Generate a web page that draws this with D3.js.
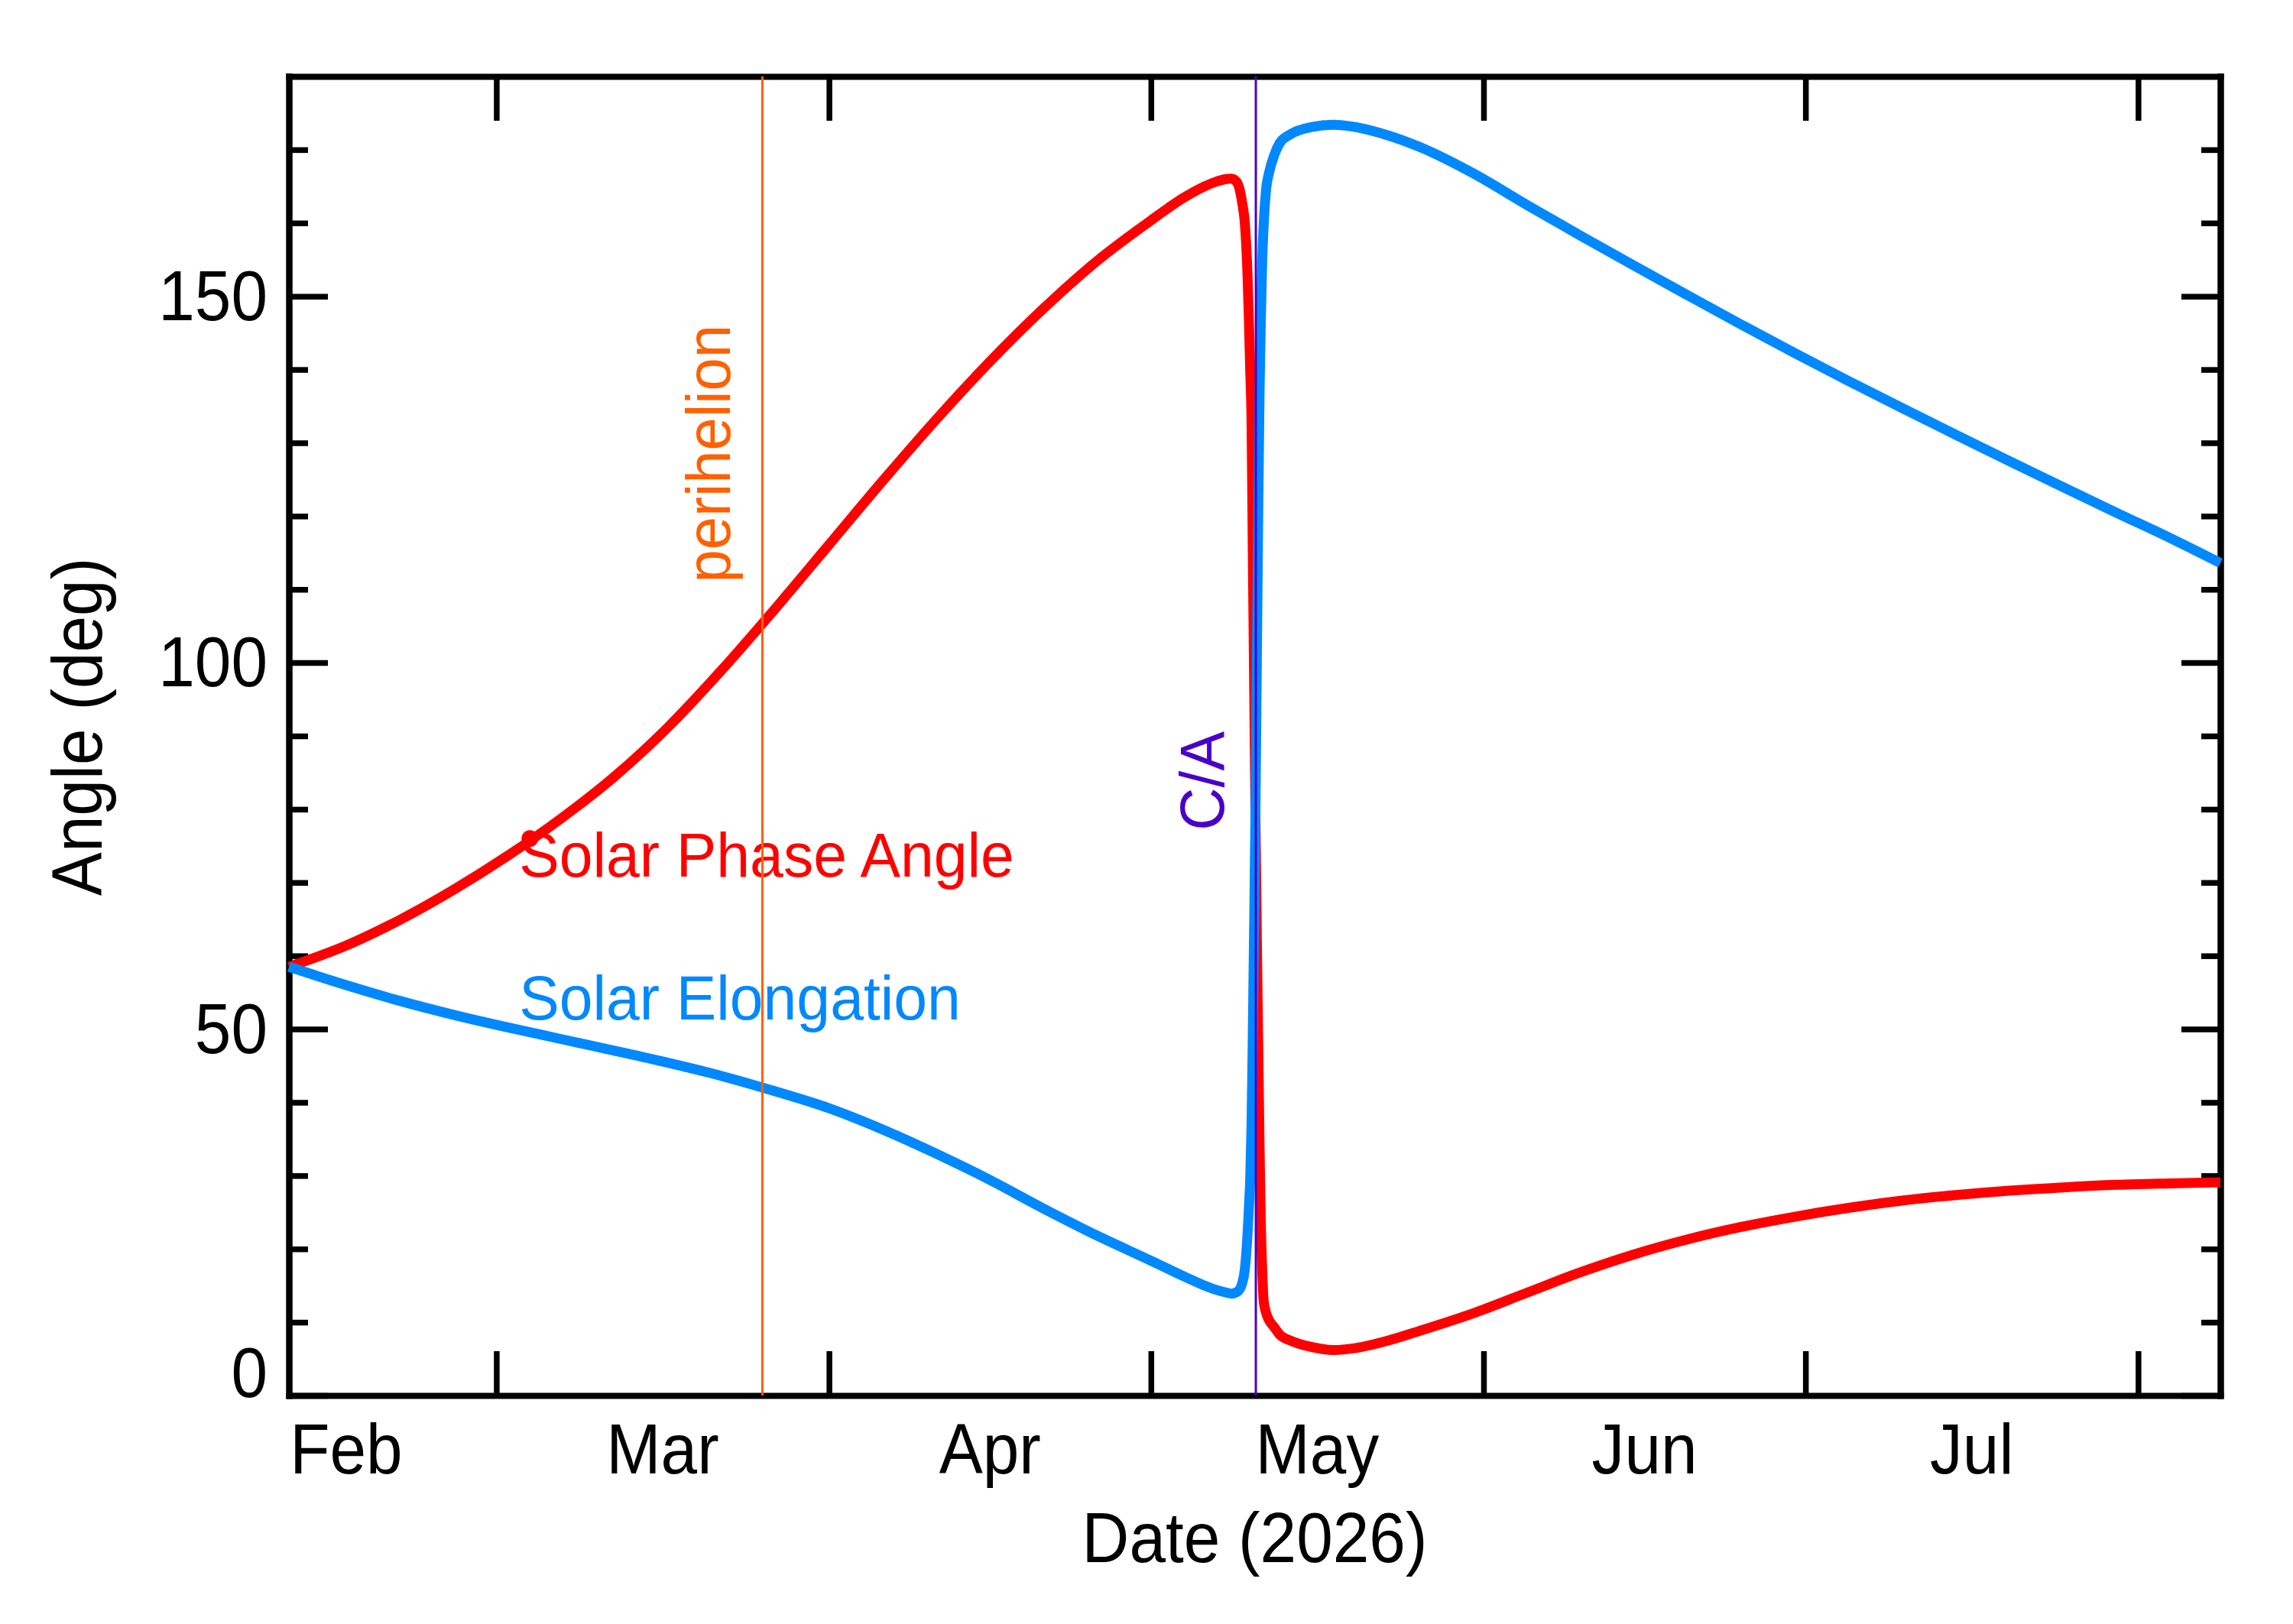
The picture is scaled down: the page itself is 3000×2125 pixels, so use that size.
<!DOCTYPE html>
<html lang="en">
<head>
<meta charset="UTF-8">
<title>solar-angles</title>
<script src="https://cdn.jsdelivr.net/npm/d3@7"></script>
<style>
  body { margin: 0; background: #fff; }
  svg { display: block; }
  .axis path, .axis line { stroke: #000; }
</style>
</head>
<body>
<script type="text/javascript">
// sample epochs (UTC) and the two angles
let dates = [
  '2026-02-09T16:00', '2026-02-15', '2026-02-20', '2026-02-25', '2026-03-02',
  '2026-03-07', '2026-03-12', '2026-03-17', '2026-03-22', '2026-03-27',
  '2026-04-01', '2026-04-06', '2026-04-11', '2026-04-16', '2026-04-21',
  '2026-04-26', '2026-05-01', '2026-05-04', '2026-05-06', '2026-05-07',
  '2026-05-08', '2026-05-08T12:00', '2026-05-09', '2026-05-09T12:00', '2026-05-09T18:00',
  '2026-05-10T00:00', '2026-05-10T03:00', '2026-05-10T06:00', '2026-05-10T09:00', '2026-05-10T12:00',
  '2026-05-10T15:00', '2026-05-10T18:00', '2026-05-10T21:00', '2026-05-11T00:00', '2026-05-11T03:00',
  '2026-05-11T06:00', '2026-05-11T09:00', '2026-05-11T12:00', '2026-05-11T18:00', '2026-05-12',
  '2026-05-12T12:00', '2026-05-13', '2026-05-14', '2026-05-16', '2026-05-18',
  '2026-05-20', '2026-05-23', '2026-05-26', '2026-05-31', '2026-06-05',
  '2026-06-10', '2026-06-15', '2026-06-20', '2026-06-25', '2026-06-30',
  '2026-07-05', '2026-07-10', '2026-07-15', '2026-07-20', '2026-07-25',
  '2026-07-30', '2026-08-04', '2026-08-08T16:00'
];
let phaseAngle = [
  58.5, 61.4, 64.9, 69.0, 73.6, 78.7, 84.45, 91.2, 99.0, 107.4,
  116.1, 124.8, 133.2, 141.1, 148.35, 154.85, 160.35, 163.4, 165.0, 165.6,
  166.0, 166.05, 165.6, 162.8, 160.0, 153.0, 147.0, 140.0, 133.0, 114.0,
  96.0, 78.0, 62.0, 48.0, 34.0, 23.0, 17.0, 13.0, 11.2, 10.3,
  9.3, 8.3, 7.5, 6.6, 6.2, 6.45, 7.45, 8.8, 11.2, 14.0,
  16.8, 19.25, 21.3, 23.0, 24.4, 25.6, 26.6, 27.35, 27.95, 28.4,
  28.75, 28.95, 29.1
];
let elongation = [
  58.5, 56.0, 53.85, 51.95, 50.25, 48.65, 47.05, 45.4, 43.6, 41.5,
  39.2, 36.3, 33.0, 29.4, 25.5, 21.8, 18.4, 16.3, 15.0, 14.45,
  14.05, 13.9, 14.1, 15.3, 17.2, 22.0, 25.5, 29.5, 37.0, 50.0,
  65.0, 81.0, 101.0, 120.0, 137.0, 147.0, 155.0, 159.5, 164.8, 166.8,
  169.3, 170.9, 172.1, 173.1, 173.4, 173.1, 172.0, 170.4, 166.8, 162.5,
  158.3, 154.2, 150.15, 146.15, 142.25, 138.45, 134.75, 131.1, 127.5, 123.95,
  120.45, 117.0, 113.6
];
let phaseMarker = { date: '2026-03-04T03:00', value: 76.0 };

let monthStarts = ['2026-02-01', '2026-03-01', '2026-04-01', '2026-05-01',
                   '2026-06-01', '2026-07-01', '2026-08-01'];
let monthLabels = ['Feb', 'Mar', 'Apr', 'May', 'Jun', 'Jul'];
let yLabels = [0, 50, 100, 150];

let perihelionDate = '2026-03-25T19:00';
let closeApproachDate = '2026-05-10T18:40';

let width = 3000;
let height = 2125;
let plotL = 378, plotR = 2905, plotT = 100, plotB = 1826;
let font = '"Liberation Sans", Arial, Helvetica, sans-serif';

let red = '#ff0000';
let blue = '#0088ff';
let orange = '#ff6000';
let purple = '#4b00c8';

let parse = s => new Date(s + (s.length > 10 ? ':00Z' : 'T00:00:00Z'));

let x = d3.scaleUtc()
  .domain([parse(dates[0]), parse(dates[dates.length - 1])])
  .range([plotL, plotR]);
let y = d3.scaleLinear()
  .domain([0, 180])
  .range([plotB, plotT]);

let svg = d3.select('body').append('svg')
  .attr('width', width)
  .attr('height', height)
  .style('font-family', font);

svg.append('rect').attr('width', width).attr('height', height).attr('fill', '#fff');

// IDL-ish fonts are a little narrower than Arial, so squeeze x a bit
function label(txt, px, py, size, opts) {
  opts = opts || {};
  svg.append('text')
    .attr('transform', 'translate(' + px + ',' + py + ') rotate(' + (opts.rotate || 0) + ') scale(' + (opts.sx || 0.93) + ',1)')
    .attr('text-anchor', opts.anchor || 'start')
    .attr('font-size', size)
    .attr('fill', opts.color || '#000')
    .text(txt);
}

let monthTicks = monthStarts.map(parse).filter(d => d > x.domain()[0] && d < x.domain()[1]);
let minorY = d3.range(10, 180, 10).filter(v => v % 50 !== 0);

function renderAxis(axis, tx, ty, lineW) {
  let g = svg.append('g')
    .attr('class', 'axis')
    .attr('transform', 'translate(' + tx + ',' + ty + ')')
    .call(axis);
  g.selectAll('text').remove();
  g.select('.domain').attr('stroke-width', 8).attr('stroke-linecap', 'square');
  g.selectAll('.tick line').attr('stroke-width', lineW);
  return g;
}

// frame + month ticks
renderAxis(d3.axisBottom(x).tickValues(monthTicks).tickSize(-58).tickSizeOuter(0), 0, plotB, 7.5);
renderAxis(d3.axisTop(x).tickValues(monthTicks).tickSize(-58).tickSizeOuter(0), 0, plotT, 7.5);
// major + minor angle ticks
renderAxis(d3.axisLeft(y).tickValues(yLabels).tickSize(-51).tickSizeOuter(0), plotL, 0, 7.5);
renderAxis(d3.axisRight(y).tickValues(yLabels).tickSize(-51).tickSizeOuter(0), plotR, 0, 7.5);
renderAxis(d3.axisLeft(y).tickValues(minorY).tickSize(-25).tickSizeOuter(0), plotL, 0, 7.5);
renderAxis(d3.axisRight(y).tickValues(minorY).tickSize(-25).tickSizeOuter(0), plotR, 0, 7.5);

// month names sit in the middle of each month
monthLabels.forEach(function (m, i) {
  let a = parse(monthStarts[i]), b = parse(monthStarts[i + 1]);
  let mid = new Date((a.getTime() + b.getTime()) / 2);
  label(m, x(mid), 1928, 92, { anchor: 'middle' });
});

yLabels.forEach(function (v) {
  let py = v === 0 ? y(0) + 2 : y(v) + 31;
  label(String(v), plotL - 28, py, 92, { anchor: 'end' });
});

label('Date (2026)', (plotL + plotR) / 2, 2044, 92, { anchor: 'middle' });
label('Angle (deg)', 133, 951, 92, { anchor: 'middle', rotate: -90 });

// curves
let t = dates.map(parse);
let line = d3.line()
  .x(d => x(d[0]))
  .y(d => y(d[1]))
  .curve(d3.curveMonotoneX);

svg.append('path')
  .datum(t.map((d, i) => [d, phaseAngle[i]]))
  .attr('d', line)
  .attr('fill', 'none')
  .attr('stroke', red)
  .attr('stroke-width', 13)
  .attr('stroke-linejoin', 'round');

svg.append('circle')
  .attr('cx', x(parse(phaseMarker.date)))
  .attr('cy', y(phaseMarker.value))
  .attr('r', 11)
  .attr('fill', red);

svg.append('path')
  .datum(t.map((d, i) => [d, elongation[i]]))
  .attr('d', line)
  .attr('fill', 'none')
  .attr('stroke', blue)
  .attr('stroke-width', 13)
  .attr('stroke-linejoin', 'round');

// curve names
label('Solar Phase Angle', x(parse('2026-03-03T03:00')), y(70.8), 82, { color: red, sx: 0.96 });
label('Solar Elongation', x(parse('2026-03-03T03:00')), y(51.3), 82, { color: blue, sx: 0.96 });

// event markers
let xp = x(parse(perihelionDate));
svg.append('line')
  .attr('x1', xp).attr('x2', xp).attr('y1', plotT).attr('y2', plotB)
  .attr('stroke', orange).attr('stroke-width', 3);
label('perihelion', xp - 42, y(110.9), 82, { color: orange, rotate: -90, sx: 0.95 });

let xc = x(parse(closeApproachDate));
svg.append('line')
  .attr('x1', xc).attr('x2', xc).attr('y1', plotT).attr('y2', plotB)
  .attr('stroke', purple).attr('stroke-width', 3);
label('C/A', xc - 42, y(77.1), 82, { color: purple, rotate: -90, sx: 0.95 });
</script>
</body>
</html>
